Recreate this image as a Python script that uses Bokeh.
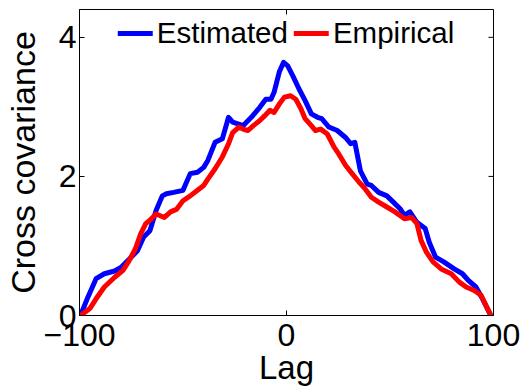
import math
from bokeh.plotting import figure
from bokeh.models import FixedTicker, Legend, LegendItem
from bokeh.embed import file_html
from bokeh.resources import INLINE

# Estimated cross covariance
lag_est = [-99.5, -96, -92, -88, -83, -80, -76, -72, -69, -66, -63, -60, -58, -54.5, -50,
           -46.5, -43, -40, -38, -34.5, -31, -28, -26, -21, -17, -13, -10, -7.5, -6, -3.5,
           -1.4, 0.6, 3, 6, 9, 12, 15, 17, 20.5, 24.5, 28.5, 31, 33, 35.7, 39, 41, 44.5,
           48.5, 51.6, 55, 57, 59.6, 63, 67, 69, 72, 76, 81, 85, 88, 91.5, 94.7, 98.4]
est = [0.0, 0.26, 0.53, 0.60, 0.64, 0.69, 0.81, 0.93, 1.13, 1.22, 1.51, 1.72, 1.75, 1.77, 1.80,
       2.04, 2.06, 2.13, 2.23, 2.49, 2.54, 2.85, 2.78, 2.73, 2.85, 2.99, 3.11, 3.11, 3.21, 3.50,
       3.64, 3.59, 3.45, 3.26, 3.09, 2.90, 2.85, 2.83, 2.71, 2.66, 2.56, 2.47, 2.49, 2.08, 1.89,
       1.87, 1.77, 1.72, 1.63, 1.53, 1.44, 1.49, 1.34, 1.25, 1.05, 0.84, 0.77, 0.67, 0.60, 0.50,
       0.41, 0.24, 0.02]

# Empirical cross covariance
lag_emp = [-99.5, -95, -92, -88, -83, -79, -76, -73, -70.5, -68, -66, -63, -59, -56, -53, -50,
           -46.5, -43, -40, -38, -34.5, -31, -28, -26, -23, -21, -18.6, -16, -13, -10.6, -8, -6,
           -3.5, -1, 2, 4.5, 7, 9, 12, 14, 16.5, 19.7, 23, 25.3, 28.5, 31.7, 35, 38, 41, 44.5,
           48.5, 52.4, 57, 60.4, 63, 65, 67.6, 70.8, 74.7, 79.6, 83.5, 86.8, 90.7, 94, 98.4]
emp = [0.0, 0.10, 0.24, 0.41, 0.55, 0.65, 0.79, 0.96, 1.17, 1.32, 1.37, 1.46, 1.41, 1.49, 1.53,
       1.65, 1.72, 1.80, 1.87, 1.96, 2.11, 2.28, 2.47, 2.63, 2.71, 2.68, 2.66, 2.73, 2.80, 2.87,
       2.95, 2.92, 3.04, 3.14, 3.16, 3.11, 2.97, 2.83, 2.73, 2.66, 2.68, 2.61, 2.42, 2.32, 2.16,
       2.04, 1.92, 1.82, 1.70, 1.63, 1.56, 1.49, 1.39, 1.41, 1.32, 1.08, 0.91, 0.77, 0.67, 0.60,
       0.48, 0.41, 0.36, 0.29, 0.02]

x_ticks = [-100, 0, 100]
x_tick_labels = {-100: "\u2212100", 0: "0", 100: "100"}
y_ticks = [0, 2, 4]
X_MIN, X_MAX = -100, 100
Y_MIN, Y_MAX = 0, 4.4

FONT = "Liberation Sans"

p = figure(width=528, height=388, x_range=(X_MIN, X_MAX), y_range=(Y_MIN, Y_MAX),
           output_backend="svg", toolbar_location=None,
           min_border_left=75, min_border_right=35, min_border_top=9, min_border_bottom=73)

p.grid.visible = False
p.outline_line_color = "black"
p.outline_line_width = 1
p.background_fill_color = "white"
p.border_fill_color = "white"

for ax in (p.xaxis[0], p.yaxis[0]):
    ax.major_label_text_font = FONT
    ax.major_label_text_font_size = "32px"
    ax.major_label_text_color = "black"
    ax.axis_label_text_font = FONT
    ax.axis_label_text_font_style = "normal"
    ax.axis_label_text_color = "black"
    ax.major_tick_in = 5
    ax.major_tick_out = 0
    ax.major_tick_line_color = "black"
    ax.minor_tick_line_color = None
    ax.axis_line_color = "black"

p.xaxis.ticker = FixedTicker(ticks=x_ticks)
p.xaxis.major_label_overrides = x_tick_labels
p.xaxis.axis_label = "Lag"
p.xaxis.axis_label_text_font_size = "33px"
p.xaxis.major_label_standoff = 8
p.xaxis.axis_label_standoff = 0

p.yaxis.ticker = FixedTicker(ticks=y_ticks)
p.yaxis.axis_label = "Cross covariance"
p.yaxis.axis_label_text_font_size = "34px"
p.yaxis.major_label_standoff = 3
p.yaxis.axis_label_standoff = 14

# mirrored tick marks on the top and right edges of the box
p.ray(x=x_ticks, y=[Y_MAX] * len(x_ticks), length=5, length_units="screen",
      angle=-math.pi / 2, line_color="black", line_width=1)
p.ray(x=[X_MAX] * len(y_ticks), y=y_ticks, length=5, length_units="screen",
      angle=math.pi, line_color="black", line_width=1)

r1 = p.line(lag_est, est, line_color="#0000FF", line_width=5, line_join="round", line_cap="round")
r2 = p.line(lag_emp, emp, line_color="#FF0000", line_width=5, line_join="round", line_cap="round")

legend = Legend(items=[LegendItem(label="Estimated", renderers=[r1]),
                       LegendItem(label="Empirical", renderers=[r2])],
                location="top_center", orientation="horizontal",
                label_text_font=FONT, label_text_font_size="29.5px", label_text_color="black",
                glyph_width=35, glyph_height=20, label_standoff=4, spacing=6,
                padding=7, margin=0, border_line_alpha=0, background_fill_alpha=0)
p.add_layout(legend)

open("out.html", "w").write(file_html(p, INLINE))
